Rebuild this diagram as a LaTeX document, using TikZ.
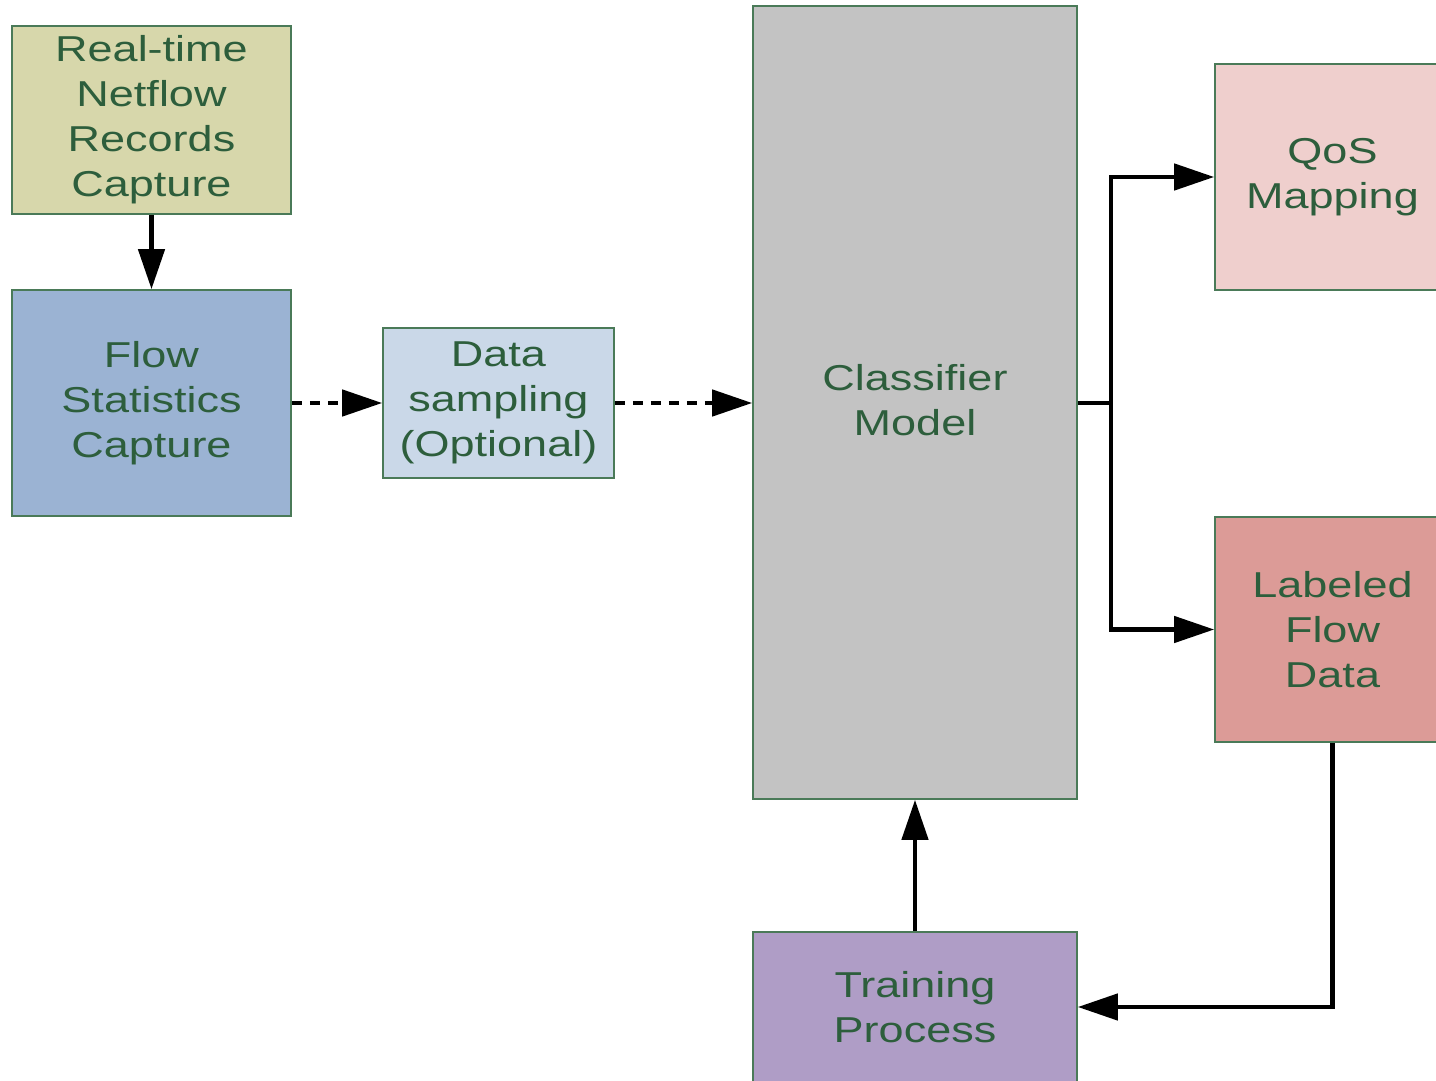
\documentclass[tikz,border=0pt]{standalone}
\usepackage{fontspec}
\usetikzlibrary{arrows.meta}
\newfontfamily\boxfont[FakeStretch=1.25]{Liberation Sans}
\definecolor{txtgreen}{HTML}{2D5E3C}
\definecolor{bordergreen}{HTML}{4A7A58}
\definecolor{cRT}{HTML}{D7D7AB}
\definecolor{cFS}{HTML}{9BB3D3}
\definecolor{cDS}{HTML}{CAD8E8}
\definecolor{cCM}{HTML}{C3C3C3}
\definecolor{cQM}{HTML}{EFCFCD}
\definecolor{cLF}{HTML}{DC9B97}
\definecolor{cTP}{HTML}{AF9DC6}
\begin{document}
\begin{tikzpicture}[x=1pt,y=-1pt,
  blk/.style={draw=bordergreen,line width=1.6pt,inner sep=0pt,align=center,
    text=txtgreen,font=\boxfont\fontsize{36}{45}\selectfont},
  arr/.style={line width=4.5pt,-{Triangle[length=40pt,width=26pt]}},
  darr/.style={arr,dash pattern=on 10pt off 8pt}]
\useasboundingbox (0,0) rectangle (1436,1081);
\node[blk,fill=cRT,minimum width=279pt,minimum height=188pt] (rt) at (151.5,120) {Real-time\\Netflow\\Records\\Capture};
\node[blk,fill=cFS,minimum width=279pt,minimum height=226pt] (fs) at (151.5,403) {Flow\\Statistics\\Capture};
\node[blk,fill=cDS,minimum width=231pt,minimum height=150pt] (ds) at (498.5,403) {Data\\sampling\\(Optional)};
\node[blk,fill=cCM,minimum width=324pt,minimum height=793pt] (cm) at (915,402.5) {};
\node[text=txtgreen,font=\boxfont\fontsize{36}{45}\selectfont,align=center] (cmt) at (915,400) {Classifier\\Model};
\node[blk,fill=cQM,minimum width=235pt,minimum height=226pt] (qos) at (1332.5,177) {QoS\\Mapping};
\node[blk,fill=cLF,minimum width=235pt,minimum height=225pt] (lab) at (1332.5,629.5) {Labeled\\Flow\\Data};
\node[blk,fill=cTP,minimum width=324pt,minimum height=150pt] (tp) at (915,1007) {Training\\Process};
\coordinate (split) at (1111,403);
\draw[arr] (rt) -- (fs);
\draw[darr] (fs) -- (ds);
\draw[darr] (ds.east) -- (cm.west |- ds.east);
\draw[line width=4.5pt] (cm.east |- split) -- (split);
\draw[arr] (split) |- (qos.west);
\draw[arr] (split) |- (lab.west);
\draw[arr] (tp) -- (cm);
\draw[arr] (lab.south) |- (tp.east);
\end{tikzpicture}
\end{document}
